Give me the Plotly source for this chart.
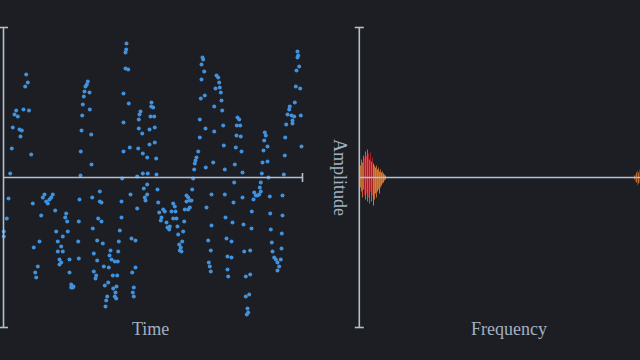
import plotly.graph_objects as go

# ---------------- data ----------------
# time-domain samples (time units, amplitude units)
time = [
    0.3, 0.3, 3.3, 5, 6.7, 8.3, 9.3, 11, 12.7, 14.3,
    16, 17, 18.3, 20, 21.7, 22.7, 24.3, 25.5, 27.7, 29.3,
    30.3, 31.7, 32.7, 34.3, 36, 37.7, 39.3, 41, 42.7, 44.3,
    46, 47.7, 49.3, 51.7, 52.7, 54.3, 54.3, 56, 56, 57.7,
    57.7, 59.3, 59.3, 61.7, 62.7, 63.7, 64.3, 66, 66, 67.7,
    67.7, 69.3, 70,
    74.7, 75.3, 75.3, 76, 77, 77.3, 78, 78.7, 79.3, 80.3,
    81, 82, 83.3, 84.3, 86, 86.3, 87.7, 88, 88.7, 89.3,
    90.3, 90.3, 92, 92.7, 93.7, 93.7, 94.7, 96.3, 96.3, 98,
    98, 99.3, 100.3, 101.3, 102, 102.7, 103.7, 104.7, 105.3, 106,
    107, 108, 109.3, 109.7, 111.3, 111.3, 112, 112.7, 113, 113.7,
    114.3, 114.7, 115.3, 116.3, 118, 118, 118.7, 120, 120, 120,
    122, 122, 122.7, 123, 124.7, 125.3, 126.3, 127, 128, 128.7,
    129.3, 130.3, 130.3, 132, 132, 133.7, 133.7, 134.7, 135.3, 135.3,
    136, 137, 138.7, 139.3, 139.3, 140.3, 141.3, 142, 143.7, 143.7,
    143.7, 144.3, 146, 146, 147, 147.7, 148, 149.7, 150.7, 151.3,
    151.3, 152.7, 153,
    154, 154.7, 155.7, 157.3, 158, 159.7, 161.3, 163, 164, 165.7,
    166.3, 168, 169.7, 169.7, 171.3, 172, 173, 174, 174.7, 175.7,
    176.3, 177.3, 178, 178.7, 179.7, 180.7, 181.3, 183, 183, 184.7,
    184.7, 186.3, 186.3, 188, 188.7, 189.7, 190.7, 191.3, 192, 193,
    194.7, 196.3, 196.3, 197.3, 198, 198, 199, 199.7, 200.7, 201.3,
    202, 202.3, 203, 204.7, 205.3, 206.3, 207.3, 207.3, 208, 208,
    209.7, 210.7, 210.7, 212, 213, 214.7, 215.7, 216.3, 217.3, 218,
    218.7, 219.7, 220.3, 221.3, 221.3, 222, 223, 224, 224, 224.7,
    228, 228, 229, 230, 230.7, 231.3, 232.3, 233, 233.3, 234,
    235.7, 236.7, 237.3, 238, 239, 239, 240, 240.7, 242.3, 242.3,
    243.3, 244, 244.7, 245.7, 246.7, 246.7, 248, 248.3, 250, 250.7,
    252.3, 254, 255.7, 256.3, 257.3, 257.3, 258.3, 259, 260, 260.7,
    261.3, 262.3, 264, 264, 265, 266.3, 266.7, 267.3, 268.3, 269,
    270.7, 272.3, 274, 274, 275.7, 277.3, 278, 278.3, 279, 279,
    280.3, 281.3, 281.7, 282.7, 284, 285.7, 286.3, 288, 289, 289,
    290.7, 291.3, 292.3, 293, 294, 294, 294.7, 295.7, 296.7, 297.3,
    298,
]
amplitude = [
    -54, -59, -41, -21, 4, 29, 50, 63, 67, 61,
    48, 41, 47, 68, 91, 103, 95, 67, 23, -26,
    -70, -95, -100, -89, -64, -38, -20, -17, -24, -26,
    -22, -20, -17, -33, -54, -64, -74, -82, -87, -69,
    -85, -59, -74, -40, -36, -44, -54, -82, -95, -107,
    -110, -110, -109,
    -64, -44, -81, -22, 2, 26, 47, 62, 73, 81,
    86, 91, 93, 96, 85, 68, 43, 13, -20, -51,
    -76, -94, -101, -98, -63, -83, -41, -14, -24, -25,
    -44, -66, -89, -108, -129, -123, -119, -105, -90, -78,
    -73, -82, -98, -111, -84, -119, -115, -121, -109, -98,
    -84, -74, -64, -53, -40, -24, -1, 26, 55, 84,
    109, 125, 128, 134, 108, 74, 30, -17, -61, -95,
    -115, -110, -119, -63, -90, 1, -31, 29, 49, 58,
    63, 66, 44, 24, 4, -11, -20, -23, 20, -7,
    -17, 4, 33, 48, 61, 71, 75, 70, 61, 50,
    35, 19, 3,
    -12, -25, -35, -43, -40, -32, -34, -45, -50, -52,
    -49, -34, -26, -41, -29, -34, -41, -49, -57, -67,
    -73, -70, -74, -64, -54, -44, -32, -18, -24, -20,
    -32, -23, -30, -23, -12, -1, 8, 14, 17, 20,
    26, 40, 58, 79, 98, 113, 120, 118, 106, 82,
    49, 10, -30, -63, -85, -89, -94, -73, -48, -17,
    15, 46, 71, 89, 102, 100, 95, 90, 85, 77,
    67, 52, 32, 8, -17, -40, -61, -79, -92, -99,
    -64, -80, -45, -25, -5, 13, 30, 42, 52, 60,
    58, 52, 41, 26, 5, -20, -47, -74, -99, -119,
    -137, -131, -135, -117, -97, -73, -51, -34, -22, -15,
    -18, -18, -17, -10, -14, -5, 4, 15, 27, 37,
    45, 42, 31, 16, 0, -19, -36, -52, -65, -74,
    -80, -82, -85, -93, -89, -82, -71, -56, -38, -18,
    3, 22, 40, 53, 63, 68, 71, 62, 57, 54,
    61, 75, 91, 107, 120, 126, 122, 111, 89, 62,
    31,
]

# frequency-domain spectrum (bin index, upper / lower extent)
freq = list(range(1, 27)) + [275, 276, 277, 278, 279, 280]
spec_upper = [12, 18, 15, 22, 20, 26, 22, 28, 24, 18,
              25, 16, 20, 14, 12, 10, 12, 8, 10, 6,
              8, 5, 6, 4, 3, 2,
              2, 3, 5, 7, 5, 8]
spec_lower = [10, 14, 20, 12, 18, 22, 16, 24, 20, 26,
              14, 24, 18, 28, 22, 16, 20, 14, 12, 16,
              10, 8, 6, 5, 3, 2,
              2, 4, 5, 8, 6, 5]

# axis limits
T_MAX = 299
A_MAX = 150
F_MAX = 285

# labels
x_label_time = "Time"
x_label_freq = "Frequency"
y_label = "Amplitude"

# ---------------- style ----------------
BG = "#1c1e23"
AXIS = "#b3bfce"
TEXT = "#a3b0c2"
DOT = "#4291dc"
FONT = "Liberation Serif"
RED = "#b8232a"
ORANGE = "#d7772e"
AMBER = "#d89a3c"
bar_colors = []
for i, f in enumerate(freq):
    if f <= 3:
        bar_colors.append(ORANGE)
    elif f <= 13:
        bar_colors.append(RED if i % 2 == 0 else ORANGE)
    elif f <= 26:
        bar_colors.append(AMBER if i % 2 else ORANGE)
    else:
        bar_colors.append(RED if i % 2 else ORANGE)

fig = go.Figure()

fig.add_trace(go.Scatter(
    x=time, y=amplitude, mode="markers",
    marker=dict(size=4, color=DOT, line=dict(width=0)),
    xaxis="x", yaxis="y", hoverinfo="skip", showlegend=False,
))

fig.add_trace(go.Bar(
    x=freq, y=[u + l for u, l in zip(spec_upper, spec_lower)],
    base=[-l for l in spec_lower],
    width=0.5, marker=dict(color=bar_colors, line=dict(width=0)),
    opacity=0.85, xaxis="x2", yaxis="y2", hoverinfo="skip", showlegend=False,
))

line = dict(color=AXIS, width=1.6)
tick = 4.5
shapes = [
    # time panel
    dict(type="line", xref="x", yref="y", x0=0, x1=0, y0=-A_MAX, y1=A_MAX, line=line),
    dict(type="line", xref="x", yref="y", x0=-tick, x1=tick, y0=A_MAX, y1=A_MAX, line=line),
    dict(type="line", xref="x", yref="y", x0=-tick, x1=tick, y0=-A_MAX, y1=-A_MAX, line=line),
    dict(type="line", xref="x", yref="y", x0=0, x1=T_MAX, y0=0, y1=0, line=line),
    dict(type="line", xref="x", yref="y", x0=T_MAX, x1=T_MAX, y0=-tick, y1=tick, line=line),
    # frequency panel
    dict(type="line", xref="x2", yref="y2", x0=0, x1=0, y0=-A_MAX, y1=A_MAX, line=line),
    dict(type="line", xref="x2", yref="y2", x0=-tick, x1=tick, y0=A_MAX, y1=A_MAX, line=line),
    dict(type="line", xref="x2", yref="y2", x0=-tick, x1=tick, y0=-A_MAX, y1=-A_MAX, line=line),
    dict(type="line", xref="x2", yref="y2", x0=0, x1=F_MAX, y0=0, y1=0, line=line),
]

font = dict(family=FONT, size=18, color=TEXT)
annotations = [
    dict(text=x_label_time, xref="x", yref="y", x=T_MAX / 2 - 3, y=-A_MAX - 1.5,
         showarrow=False, font=font, xanchor="center", yanchor="middle"),
    dict(text=x_label_freq, xref="x2", yref="y2", x=150, y=-A_MAX - 1.5,
         showarrow=False, font=font, xanchor="center", yanchor="middle"),
    dict(text=y_label, xref="paper", yref="y2", x=340.5 / 640, y=0,
         showarrow=False, font=font, textangle=90, xanchor="center", yanchor="middle"),
]

fig.update_layout(
    width=640, height=360,
    margin=dict(l=0, r=0, t=0, b=0),
    paper_bgcolor=BG, plot_bgcolor=BG,
    shapes=shapes, annotations=annotations,
    xaxis=dict(domain=[0, 330 / 640], range=[-3.5, 326.5], visible=False, fixedrange=True),
    yaxis=dict(domain=[0, 1], range=[-182.5, 177.5], visible=False, fixedrange=True),
    xaxis2=dict(domain=[330 / 640, 1], range=[-29.3, 280.7], visible=False,
                anchor="y2", fixedrange=True),
    yaxis2=dict(domain=[0, 1], range=[-182.5, 177.5], visible=False, anchor="x2",
                fixedrange=True),
    barmode="overlay",
)

fig.write_html("out.html")
